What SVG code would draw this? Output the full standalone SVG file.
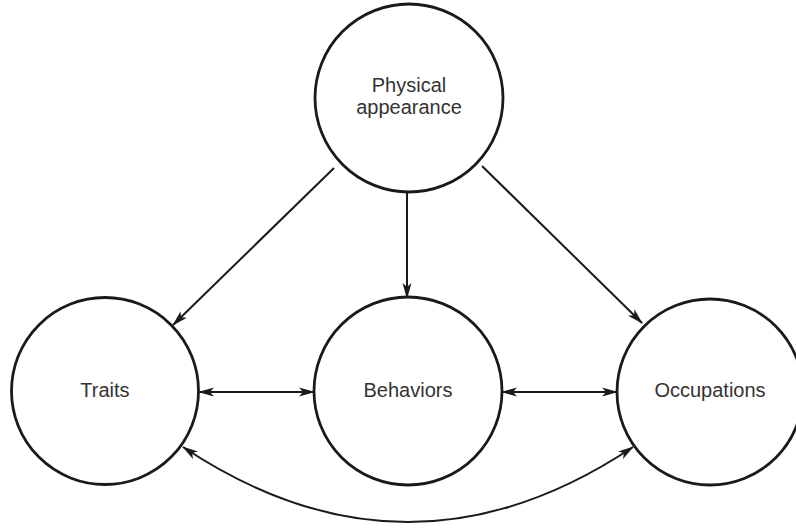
<svg xmlns="http://www.w3.org/2000/svg" width="796" height="529" viewBox="0 0 796 529">
<style>
.node circle{fill:#fff;stroke:#1a1a1a;stroke-width:2.8}
.node text{font-family:"Liberation Sans",Arial,sans-serif;font-size:20px;fill:#333;text-anchor:middle}
.conn path{fill:none;stroke:#1a1a1a;stroke-width:2}
</style>
<defs>
<marker id="ah" viewBox="0 0 16 10" refX="15" refY="5" markerWidth="16" markerHeight="10" markerUnits="userSpaceOnUse" orient="auto-start-reverse">
<path d="M0,0.5 L16,5 L0,9.5 L4,5 z" fill="#1a1a1a"/>
</marker>
</defs>
<rect width="796" height="529" fill="#fff"/>
<g id="connectors" class="conn">
<path d="M334,168 L173,325" marker-end="url(#ah)"/>
<path d="M407,192 L407,298" marker-end="url(#ah)"/>
<path d="M482,166 L642,323" marker-end="url(#ah)"/>
<path d="M199,392 L314,392" marker-start="url(#ah)" marker-end="url(#ah)"/>
<path d="M502,392 L617,392" marker-start="url(#ah)" marker-end="url(#ah)"/>
<path d="M183,447 Q408,597 633,447" marker-start="url(#ah)" marker-end="url(#ah)"/>
</g>
<g id="node-physical" class="node">
<circle cx="409" cy="98" r="94"/>
<text x="409" y="92">Physical</text>
<text x="409" y="114">appearance</text>
</g>
<g id="node-traits" class="node">
<circle cx="105" cy="391" r="93.5"/>
<text x="105" y="397">Traits</text>
</g>
<g id="node-behaviors" class="node">
<circle cx="408" cy="391" r="94"/>
<text x="408" y="397">Behaviors</text>
</g>
<g id="node-occupations" class="node">
<circle cx="710" cy="392" r="93"/>
<text x="710" y="397">Occupations</text>
</g>
</svg>
